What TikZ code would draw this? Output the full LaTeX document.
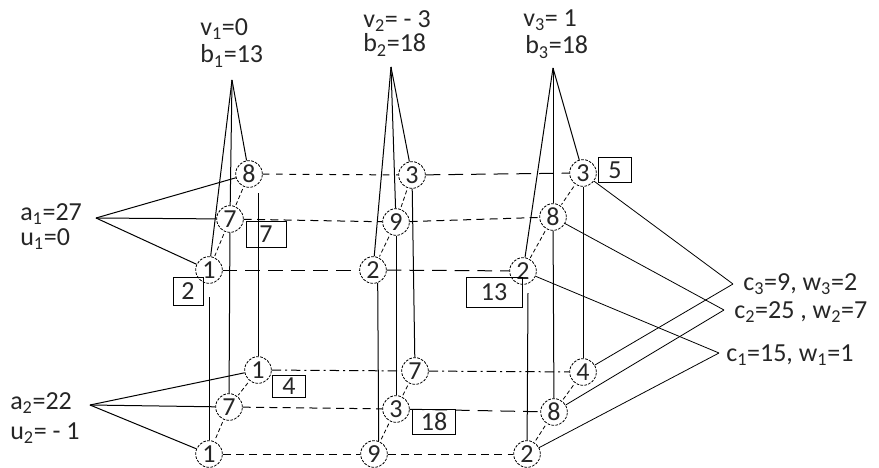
\documentclass[tikz,border=0pt]{standalone}
\usepackage{fontspec}
\setmainfont{Carlito}
\usetikzlibrary{calc}
\begin{document}
\begin{tikzpicture}[x=0.75pt,y=-0.75pt,
  every node/.style={font=\fontsize{19.5}{21}\selectfont, text=black!85},
  cell/.style={circle, draw, dash pattern=on 2pt off 1pt, line width=0.6pt,
               minimum size=20pt, inner sep=0pt},
  tag/.style={draw, line width=0.7pt, inner sep=0pt},
  lbl/.style={anchor=west, inner sep=0pt},
  edge/.style={line width=0.75pt},
  thin edge/.style={line width=0.6pt},
  link/.style={line width=0.6pt, dash pattern=on 3pt off 2pt, shorten <=2pt, shorten >=1pt},
  shortdash/.style={line width=0.75pt, dash pattern=on 5pt off 5pt},
  middash/.style={line width=0.75pt, dash pattern=on 6pt off 4pt},
  longdash/.style={line width=0.75pt, dash pattern=on 11pt off 6pt},
  dashdot/.style={line width=0.75pt, dash pattern=on 7pt off 3pt on 1.5pt off 3pt}
]
\useasboundingbox (0,0) rectangle (879,468);

% supply / demand labels
\node[lbl] (v1) at (200,29) {v\textsubscript{1}=0};
\node[lbl] (b1) at (200,56) {b\textsubscript{1}=13};
\node[lbl] (v2) at (363,21) {v\textsubscript{2}= - 3};
\node[lbl] (b2) at (363,45) {b\textsubscript{2}=18};
\node[lbl] (v3) at (523,20) {v\textsubscript{3}= 1};
\node[lbl] (b3) at (525,47) {b\textsubscript{3}=18};

\node[lbl] (a1) at (20,214) {a\textsubscript{1}=27};
\node[lbl] (u1) at (20,239) {u\textsubscript{1}=0};
\node[lbl] (a2) at (10,403) {a\textsubscript{2}=22};
\node[lbl] (u2) at (10,433) {u\textsubscript{2}= - 1};

\node[lbl] (c3) at (743,284) {c\textsubscript{3}=9, w\textsubscript{3}=2};
\node[lbl] (c2) at (734,312) {c\textsubscript{2}=25 , w\textsubscript{2}=7};
\node[lbl] (c1) at (726,355) {c\textsubscript{1}=15, w\textsubscript{1}=1};

% cells of the plan
\node[cell] (A1) at (249,174) {8};
\node[cell] (A2) at (230,219) {7};
\node[cell] (A3) at (209,270) {1};
\node[cell] (A4) at (258,370) {1};
\node[cell] (A5) at (229,407) {7};
\node[cell] (A6) at (209,454) {1};

\node[cell] (B1) at (412,175) {3};
\node[cell] (B2) at (396,222) {9};
\node[cell] (B3) at (373,270) {2};
\node[cell] (B4) at (415,371) {7};
\node[cell] (B5) at (396,409) {3};
\node[cell] (B6) at (374,454) {9};

\node[cell] (C1) at (583,173) {3};
\node[cell] (C2) at (553,217) {8};
\node[cell] (C3) at (523,271) {2};
\node[cell] (C4) at (583,372) {4};
\node[cell] (C5) at (554,412) {8};
\node[cell] (C6) at (527,454) {2};

% boxed values
\node[tag, minimum width=30pt, minimum height=19.5pt] (k7)  at (266,234) {7};
\node[tag, minimum width=22.5pt, minimum height=21pt] (k2)  at (188,291) {2};
\node[tag, minimum width=24.75pt, minimum height=16.5pt] (k4) at (289,386) {4};
\node[tag, minimum width=32pt, minimum height=19pt] (k18) at (434,422) {18};
\node[tag, minimum width=25pt, minimum height=19pt] (k5)  at (615,170) {5};
\node[tag, minimum width=42pt, minimum height=22.5pt] (k13) at (494,292) {13};

% apexes and meeting points
\coordinate (apA) at (232,80);
\coordinate (apB) at (391,67);
\coordinate (apC) at (553,68);
\coordinate (aP) at (96,218);
\coordinate (bP) at (90,405);
\coordinate (c3P) at (733,284);
\coordinate (c2P) at (724,310);
\coordinate (c1P) at (719,353);
\coordinate (A4top) at (258,193);
\coordinate (A6top) at (209,297);
\coordinate (C6top) at (528,293);

% fans from the apexes
\draw[edge] (apA) -- (A1);
\draw[edge] (apA) -- (A2);
\draw[edge] (apA) -- (A3);
\draw[edge] (apB) -- (B1);
\draw[edge] (apB) -- (B2);
\draw[edge] (apB) -- (B3);
\draw[edge] (apC) -- (C1);
\draw[edge] (apC) -- (C2);
\draw[edge] (apC) -- (C3);

% vertical links between the two groups
\draw[edge] (A4top) -- (A4);
\draw[edge] (A2) -- (A5);
\draw[edge] (A6top) -- (A6);
\draw[edge] (B1) -- (B4);
\draw[edge] (B2) -- (B5);
\draw[edge] (B3.-70) -- (B6.70);
\draw[edge] (C1) -- (C4);
\draw[edge] (C2) -- (C5);
\draw[edge] (C6top) -- (C6);

% short links inside each column
\draw[link] (A1) -- (A2);
\draw[link] (A2) -- (A3);
\draw[link] (A4) -- (A5);
\draw[link] (A5) -- (A6);
\draw[link] (B1) -- (B2);
\draw[link] (B2) -- (B3);
\draw[link] (B4) -- (B5);
\draw[link] (B5) -- (B6);
\draw[link] (C1) -- (C2);
\draw[link] (C2) -- (C3);
\draw[link] (C4) -- (C5);
\draw[link] (C5) -- (C6);

% rows
\draw[shortdash] (A1) -- (B1);
\draw[longdash] (B1) -- (C1);
\draw[middash] (A2) -- (B2);
\draw[middash] (B2) -- (C2);
\draw[longdash] (A3) -- (B3);
\draw[longdash] (B3) -- (C3);
\draw[dashdot] (A4) -- (B4);
\draw[dashdot] (B4) -- (C4);
\draw[middash] (A5) -- (B5);
\draw[longdash] (B5) -- (C5);
\draw[middash] (A6) -- (B6);
\draw[middash] (B6) -- (C6);

% supplier fans
\draw[edge] (aP) -- (A1);
\draw[edge] (aP) -- (A2);
\draw[edge] (aP) -- (A3);
\draw[edge] (bP) -- (A4);
\draw[edge] (bP) -- (A5);
\draw[edge] (bP) -- (A6);

% consumer fans
\draw[thin edge] (C1) -- (c3P);
\draw[thin edge] (C4) -- (c3P);
\draw[thin edge] (C2) -- (c2P);
\draw[thin edge] (C5) -- (c2P);
\draw[thin edge] (C3) -- (c1P);
\draw[thin edge] (C6) -- (c1P);
\end{tikzpicture}
\end{document}
